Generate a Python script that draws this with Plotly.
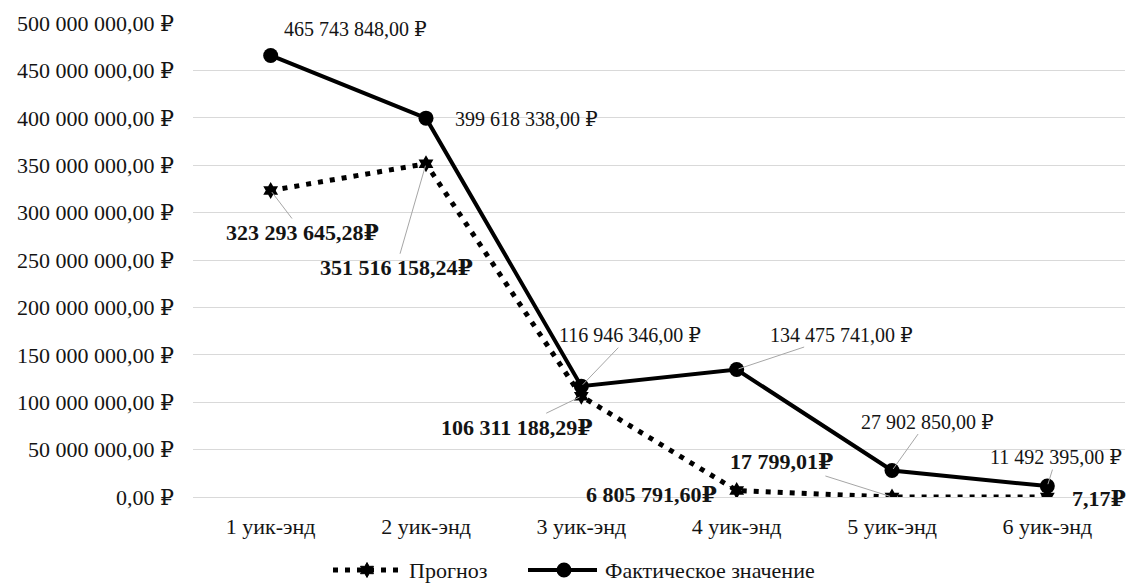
import math
import plotly.graph_objects as go

# Weekend revenue: forecast vs actual (rubles)
weekends = ["1 уик-энд", "2 уик-энд", "3 уик-энд", "4 уик-энд", "5 уик-энд", "6 уик-энд"]
forecast = [323293645.28, 351516158.24, 106311188.29, 6805791.60, 17799.01, 7.17]
actual = [465743848.00, 399618338.00, 116946346.00, 134475741.00, 27902850.00, 11492395.00]
series_names = ["Прогноз", "Фактическое значение"]
y_ticks = list(range(0, 500000001, 50000000))

# label offsets in pixels from each point (dx, dy-down, leader line?)
actual_label_pos = [(85, -26, False), (100, 1, False), (49, -51, True),
                    (105, -35, True), (35, -49, True), (9, -29, True)]
forecast_label_pos = [(32, 42, True), (-30, 104, True), (-64, 31, True),
                      (-85, 4, False), (-111, -35, True), (52, 1, False)]

W, H = 1134, 585
ML, MR, MT, MB = 193, 9, 23, 88
PW, PH = W - ML - MR, H - MT - MB

FONT = "'Liberation Serif', 'Times New Roman', 'DejaVu Serif', serif"
INK = "#141414"
DOT_DASH = "5px,7px"


def rub(v, gap=" "):
    s = f"{v:,.2f}".replace(",", " ").replace(".", ",")
    return s + gap + "₽"


def px_x(px):
    return (px - ML) / PW


def px_y(py):
    return (H - MB - py) / PH


def star_path(r_out, r_in, n=6):
    pts = []
    for i in range(2 * n):
        r = r_out if i % 2 == 0 else r_in
        a = math.pi / 2 + i * math.pi / n
        pts.append(f"{r * math.cos(a):.2f},{r * math.sin(a):.2f}")
    return "M" + "L".join(pts) + "Z"


fig = go.Figure()
fig.add_trace(go.Scatter(
    x=weekends, y=forecast, name=series_names[0], mode="lines+markers",
    line=dict(color="black", width=5, dash=DOT_DASH),
    marker=dict(symbol="hexagram", size=13, color="black"),
))
fig.add_trace(go.Scatter(
    x=weekends, y=actual, name=series_names[1], mode="lines+markers",
    line=dict(color="black", width=4),
    marker=dict(symbol="circle", size=15, color="black"),
))

annotations = []
for cat, v, (dx, dy, lead) in zip(weekends, actual, actual_label_pos):
    a = dict(x=cat, y=v, xref="x", yref="y", text=rub(v),
             font=dict(family=FONT, size=20, color=INK))
    if lead:
        a.update(showarrow=True, ax=dx, ay=dy, arrowhead=0, arrowwidth=1,
                 arrowcolor="#a6a6a6", standoff=2)
    else:
        a.update(showarrow=False, xshift=dx, yshift=-dy)
    annotations.append(a)

for cat, v, (dx, dy, lead) in zip(weekends, forecast, forecast_label_pos):
    a = dict(x=cat, y=v, xref="x", yref="y", text="<b>" + rub(v, "") + "</b>",
             font=dict(family=FONT, size=22, color=INK))
    if lead:
        a.update(showarrow=True, ax=dx, ay=dy, arrowhead=0, arrowwidth=1,
                 arrowcolor="#a6a6a6", standoff=2)
    else:
        a.update(showarrow=False, xshift=dx, yshift=-dy)
    annotations.append(a)

# legend drawn below the axis
LEG_Y = 570
shapes = [
    dict(type="line", xref="paper", yref="paper", x0=px_x(333), x1=px_x(399),
         y0=px_y(LEG_Y), y1=px_y(LEG_Y), line=dict(color="black", width=5, dash=DOT_DASH)),
    dict(type="path", xref="paper", yref="paper", xsizemode="pixel", ysizemode="pixel",
         xanchor=px_x(367), yanchor=px_y(LEG_Y), path=star_path(7.5, 4.2),
         fillcolor="black", line=dict(color="black", width=1)),
    dict(type="line", xref="paper", yref="paper", x0=px_x(528), x1=px_x(597),
         y0=px_y(LEG_Y), y1=px_y(LEG_Y), line=dict(color="black", width=4)),
    dict(type="circle", xref="paper", yref="paper", xsizemode="pixel", ysizemode="pixel",
         xanchor=px_x(564), yanchor=px_y(LEG_Y), x0=-7.5, x1=7.5, y0=-7.5, y1=7.5,
         fillcolor="black", line=dict(color="black", width=0)),
]
for name, left in zip(series_names, [407, 603]):
    annotations.append(dict(
        x=px_x(left), y=px_y(LEG_Y), xref="paper", yref="paper", text=name,
        showarrow=False, xanchor="left", yanchor="middle",
        font=dict(family=FONT, size=22, color=INK),
    ))

fig.update_layout(
    template="none",
    width=W, height=H,
    margin=dict(l=ML, r=MR, t=MT, b=MB),
    paper_bgcolor="white", plot_bgcolor="white",
    font=dict(family=FONT, size=22, color=INK),
    showlegend=False,
    annotations=annotations,
    shapes=shapes,
)
fig.update_xaxes(
    type="category", range=[-0.5, 5.5], showgrid=False, zeroline=False,
    showline=False, ticks="", automargin=False,
    tickfont=dict(family=FONT, size=22, color=INK), ticklabelstandoff=14,
)
fig.update_yaxes(
    range=[0, 500000000], tickvals=y_ticks, ticktext=[rub(t) for t in y_ticks],
    showgrid=True, gridcolor="#d9d9d9", gridwidth=1,
    zeroline=True, zerolinecolor="#d9d9d9", zerolinewidth=1,
    showline=False, ticks="", automargin=False,
    tickfont=dict(family=FONT, size=22, color=INK), ticklabelstandoff=18,
)

fig.write_html("out.html")
